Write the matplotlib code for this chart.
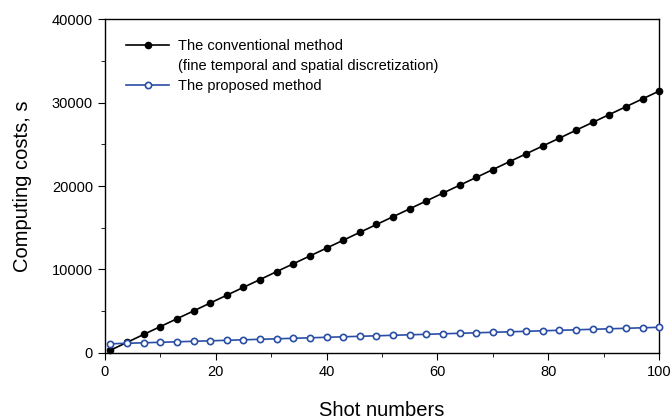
import numpy as np
import matplotlib.pyplot as plt
from matplotlib.lines import Line2D
from matplotlib.ticker import MultipleLocator

plt.rcParams['font.family'] = ['Liberation Sans', 'DejaVu Sans']

# Shot numbers (every third shot)
shots = [1, 4, 7, 10, 13, 16, 19, 22, 25, 28, 31, 34, 37, 40, 43, 46, 49,
         52, 55, 58, 61, 64, 67, 70, 73, 76, 79, 82, 85, 88, 91, 94, 97, 100]

# Computing costs in seconds
conventional = [310, 1250, 2200, 3140, 4080, 5020, 5970, 6910, 7850, 8790,
                9740, 10680, 11620, 12560, 13500, 14450, 15390, 16330, 17270,
                18220, 19160, 20100, 21040, 21980, 22930, 23870, 24810, 25750,
                26700, 27640, 28580, 29520, 30460, 31400]
proposed = [1080, 1140, 1200, 1260, 1320, 1380, 1440, 1500, 1560, 1620,
            1680, 1740, 1800, 1860, 1920, 1980, 2040, 2100, 2160, 2220,
            2280, 2340, 2400, 2460, 2520, 2580, 2640, 2700, 2760, 2820,
            2880, 2940, 3000, 3060]

fig = plt.figure(figsize=(6.72, 4.2), dpi=100)
ax = fig.add_axes([0.156, 0.16, 0.825, 0.794])

l1, = ax.plot(shots, conventional, color='black', lw=1.2, marker='o', ms=4.5,
              mfc='black', mec='black', clip_on=False, zorder=3)
l2, = ax.plot(shots, proposed, color='#2a4ea6', lw=1.2, marker='o', ms=4.5,
              mfc='white', mec='#2a4ea6', mew=1.2, clip_on=False, zorder=3)

ax.set_xlim(0, 100)
ax.set_ylim(0, 40000)
ax.xaxis.set_major_locator(MultipleLocator(20))
ax.xaxis.set_minor_locator(MultipleLocator(10))
ax.yaxis.set_major_locator(MultipleLocator(10000))
ax.yaxis.set_minor_locator(MultipleLocator(5000))
ax.tick_params(which='both', direction='out', labelsize=10.5, color='black',
               top=False, right=False)
ax.tick_params(which='major', length=5)
ax.tick_params(which='minor', length=3)
for s in ax.spines.values():
    s.set_linewidth(1.0)

ax.set_xlabel('Shot numbers', fontsize=14.5, labelpad=16)
ax.set_ylabel('Computing costs, s', fontsize=14.5, labelpad=14)

# blank handle so the second line of the first label sits under it
blank = Line2D([], [], color='none')
ax.legend([l1, blank, l2],
          ['The conventional method',
           '(fine temporal and spatial discretization)',
           'The proposed method'],
          loc='upper left', bbox_to_anchor=(0.027, 0.957), frameon=False,
          fontsize=10.5, handlelength=3.0, handletextpad=0.6,
          labelspacing=0.4, borderaxespad=0)

fig.savefig('out.png', dpi=100)
